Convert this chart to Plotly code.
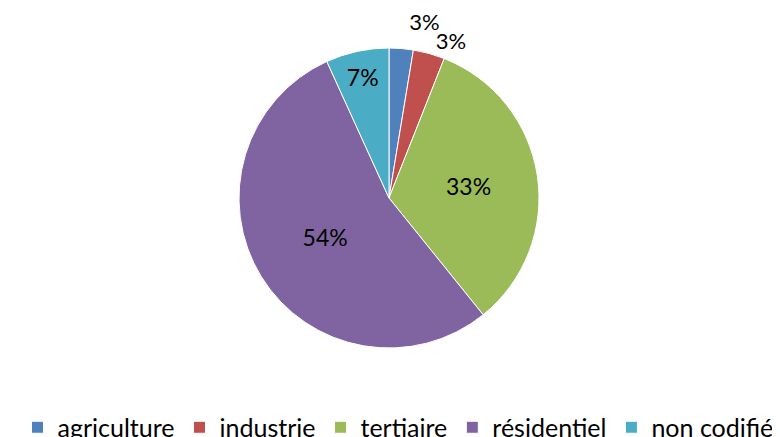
import plotly.graph_objects as go

categories = ["agriculture", "industrie", "tertiaire", "résidentiel", "non codifié"]
values = [2.6, 3.4, 33.2, 54.0, 6.8]
colors = ["#4F81BD", "#C0504D", "#9BBB59", "#8064A2", "#4BACC6"]
percent_labels = ["3%", "3%", "33%", "54%", "7%"]
label_in_main = [False, True, True, True, True]
label_outside = [True, True, False, False, False]

W, H = 780, 437
cx, cy, r = 381, 190, 150          # layout of the pie box (pixels)
dom = dict(x=[(cx - r) / W, (cx + r) / W], y=[1 - (cy + r) / H, 1 - (cy - r) / H])
r2 = 164                           # slightly larger transparent box for the first label
dom2 = dict(x=[(cx - r2) / W, (cx + r2) / W], y=[1 - (cy + r2) / H, 1 - (cy - r2) / H])
font = dict(family="Lato", size=23, color="black")
out_font = dict(family="Lato", size=22, color="black")

text_main = [t if m else "" for t, m in zip(percent_labels, label_in_main)]
pos_main = ["outside" if o else "inside" for o in label_outside]
text_over = [t if not m else "" for t, m in zip(percent_labels, label_in_main)]

fig = go.Figure()
fig.add_trace(go.Pie(
    labels=categories,
    values=values,
    sort=False,
    direction="clockwise",
    rotation=0,
    marker=dict(colors=colors, line=dict(color="white", width=1)),
    text=text_main,
    textinfo="text",
    textposition=pos_main,
    insidetextorientation="horizontal",
    textfont=font, outsidetextfont=out_font, insidetextfont=font,
    hoverinfo="label+percent",
    domain=dom,
))
# transparent overlay carrying the first small-slice label
fig.add_trace(go.Pie(
    labels=categories,
    values=values,
    sort=False,
    direction="clockwise",
    rotation=0,
    marker=dict(colors=["rgba(0,0,0,0)"] * len(values), line=dict(width=0)),
    text=text_over,
    textinfo="text",
    textposition="outside",
    textfont=out_font, outsidetextfont=out_font,
    hoverinfo="skip",
    showlegend=False,
    domain=dom2,
))

fig.update_layout(
    width=W, height=H,
    margin=dict(l=0, r=0, t=0, b=0, autoexpand=False),
    paper_bgcolor="white",
    plot_bgcolor="white",
    showlegend=True,
    legend=dict(
        orientation="h",
        xref="container", yref="container",
        x=0.5, xanchor="center",
        y=0.04, yanchor="middle",
        font=dict(family="Lato", size=25, color="black"),
        itemclick=False,
        traceorder="normal",
    ),
)

fig.write_html("out.html")
